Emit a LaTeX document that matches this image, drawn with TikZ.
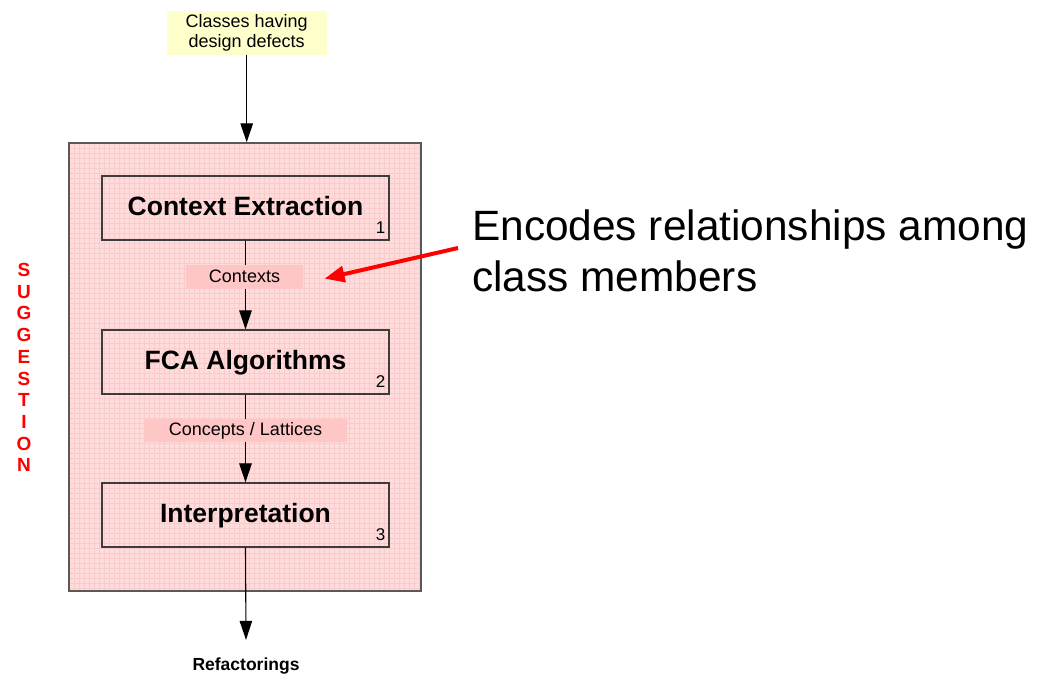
\documentclass[tikz,border=0pt]{standalone}
\usepackage{fontspec}
\setmainfont{Liberation Sans}
\usetikzlibrary{arrows.meta}

\definecolor{panelpink}{RGB}{255,220,220}
\definecolor{gridpink}{RGB}{250,203,203}
\definecolor{tagpink}{RGB}{255,198,198}
\definecolor{noteyellow}{RGB}{255,255,204}
\definecolor{edgegray}{RGB}{60,60,60}
\definecolor{alertred}{RGB}{255,0,0}

\tikzset{
  panel/.style={draw=edgegray!85, line width=1.4pt, fill=panelpink, inner sep=0pt,
    minimum width=352pt, minimum height=448pt,
    path picture={
      \foreach \k in {0,5,...,450} {
        \draw[gridpink, line width=0.55pt]
          ([xshift=\k pt]path picture bounding box.north west) --
          ([xshift=\k pt]path picture bounding box.south west);
        \draw[gridpink, line width=0.55pt]
          ([yshift=-\k pt]path picture bounding box.north west) --
          ([yshift=-\k pt]path picture bounding box.north east);
      }
    }},
  stepbox/.style={draw=edgegray, line width=1.2pt, inner sep=0pt,
    minimum width=287pt, minimum height=64pt,
    font=\fontsize{26.5}{30}\selectfont\bfseries, text height=18pt, text depth=4pt},
  stepnum/.style={anchor=base east, inner sep=0pt, font=\fontsize{17}{19}\selectfont,
    xshift=-4pt, yshift=7.5pt},
  tag/.style={fill=tagpink, inner sep=0pt, font=\fontsize{18}{20}\selectfont,
    text height=13pt, text depth=3pt},
  flow/.style={draw=black, line width=1.1pt, -{Triangle[length=19pt, width=12.5pt]}},
  vletter/.style={anchor=base, inner sep=0pt, text=alertred,
    font=\fontsize{19}{21}\selectfont\bfseries},
  note/.style={anchor=base west, inner sep=0pt, font=\fontsize{42.4}{51}\selectfont},
}

\begin{document}
\begin{tikzpicture}[x=1pt, y=-1pt]
  \useasboundingbox (0,0) rectangle (1038,674);

  % input classes
  \node[fill=noteyellow, inner sep=0pt, minimum width=160pt, minimum height=44pt,
        align=center, font=\fontsize{18}{20.5}\selectfont] (input) at (246.7,33)
        {Classes having\\design defects};

  % suggestion panel with its three stages
  \node[panel] (panel) at (245,367) {};
  \node[stepbox] (s1) at (245.5,208) {Context Extraction};
  \node[stepbox] (s2) at (245.5,362) {FCA Algorithms};
  \node[stepbox] (s3) at (245.5,515) {Interpretation};
  \node[stepnum] (n1) at (s1.south east) {1};
  \node[stepnum] (n2) at (s2.south east) {2};
  \node[stepnum] (n3) at (s3.south east) {3};

  % output
  \node[anchor=base, inner sep=0pt, font=\fontsize{17.5}{20}\selectfont\bfseries,
        text height=13pt, text depth=4pt] (out) at (246,670) {Refactorings};

  % flow
  \draw[flow] (input.south) -- (input.south |- panel.north);
  \draw[flow] (s1.south) -- node[tag, pos=0.41, minimum width=117pt, minimum height=23.5pt, xshift=-1pt] (t1) {Contexts} (s2.north);
  \draw[flow] (s2.south) -- node[tag, pos=0.41, minimum width=202pt, minimum height=23.5pt] (t2) {Concepts / Lattices} (s3.north);
  \draw[flow] (s3.south) -- ([yshift=17pt]out.north);

  % vertical label
  \foreach \l [count=\i from 0] in {S,U,G,G,E,S,T,I,O,N}
    \node[vletter] (v\i) at (24,276.5+21.7*\i) {\l};

  % annotation
  \node[note] (note1) at (472,240) {Encodes relationships among};
  \node[note] (note2) at (472,291) {class members};
  \coordinate (notetail) at (458,248);
  \draw[alertred, line width=4pt, -{Triangle[length=20pt, width=16pt]}]
    (notetail) -- ([xshift=21pt, yshift=-1.6pt]t1.east);
\end{tikzpicture}
\end{document}
